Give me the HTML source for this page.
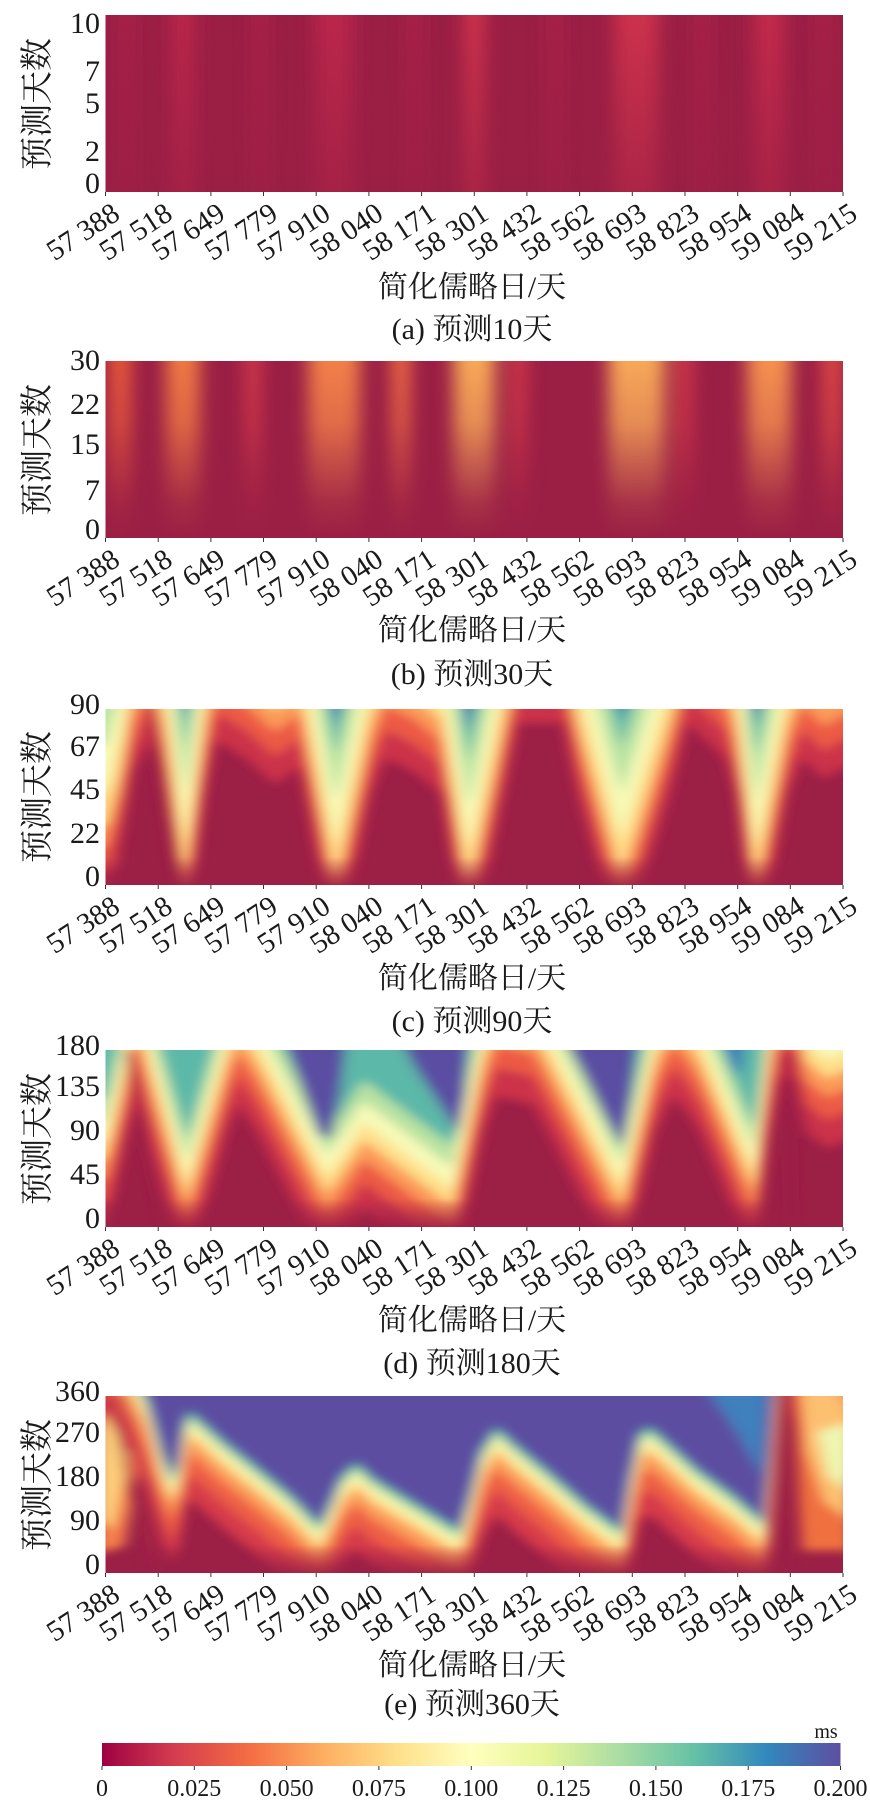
<!DOCTYPE html>
<html><head><meta charset="utf-8">
<style>
html,body{margin:0;padding:0;background:#fff;}
svg text{font-family:"Liberation Serif","Noto Serif CJK SC",serif;fill:#1a1a1a;}
</style></head>
<body>
<svg width="870" height="1798" viewBox="0 0 870 1798" xmlns="http://www.w3.org/2000/svg" xmlns:xlink="http://www.w3.org/1999/xlink">
<defs>
  <filter id="bl" x="-0.1" y="-0.3" width="1.2" height="1.6"><feGaussianBlur stdDeviation="9 2.5"/></filter>
  <filter id="bl2" x="-0.1" y="-0.3" width="1.2" height="1.6"><feGaussianBlur stdDeviation="12 3"/></filter>
  <linearGradient id="fadeG" x1="0" y1="0" x2="0" y2="1">
    <stop offset="0" stop-color="#fff"/><stop offset="0.35" stop-color="#fff" stop-opacity="0.8"/><stop offset="0.8" stop-color="#fff" stop-opacity="0.15"/><stop offset="1" stop-color="#fff" stop-opacity="0"/>
  </linearGradient>
  <mask id="fade" maskUnits="userSpaceOnUse" x="-100" y="-100" width="1200" height="300">
    <rect x="-100" y="0" width="1200" height="100" fill="url(#fadeG)"/>
  </mask>
  <linearGradient id="fadeA" x1="0" y1="0" x2="0" y2="1">
    <stop offset="0" stop-color="#fff"/><stop offset="1" stop-color="#fff" stop-opacity="0.35"/>
  </linearGradient>
  <mask id="fadeAm" maskUnits="userSpaceOnUse" x="-100" y="-100" width="1200" height="300">
    <rect x="-100" y="0" width="1200" height="100" fill="url(#fadeA)"/>
  </mask>
  <linearGradient id="bot" x1="0" y1="0" x2="0" y2="1">
    <stop offset="0" stop-color="#9c1f46" stop-opacity="0"/><stop offset="1" stop-color="#9c1f46" stop-opacity="0.85"/>
  </linearGradient>
  <linearGradient id="cbar" x1="0" y1="0" x2="1" y2="0">
    <stop offset="0" stop-color="#9e0142"/><stop offset="0.1" stop-color="#d53e4f"/><stop offset="0.2" stop-color="#f46d43"/><stop offset="0.3" stop-color="#fdae61"/><stop offset="0.4" stop-color="#fee08b"/><stop offset="0.5" stop-color="#ffffbf"/><stop offset="0.6" stop-color="#e6f598"/><stop offset="0.7" stop-color="#abdda4"/><stop offset="0.8" stop-color="#66c2a5"/><stop offset="0.9" stop-color="#3288bd"/><stop offset="1" stop-color="#5e4fa2"/>
  </linearGradient>
  <polygon id="Lc" points="-50,-300 -50,60 0,60 20,30 35,-10 60,-30 80,0 108,88 135,0 150,-30 190,-20 230,-5 262,-15 270,0 312,92 360,0 380,-20 420,-12 455,0 492,95 540,0 560,-40 620,-40 640,0 700,88 765,0 790,-40 840,-20 855,0 882,92 925,0 945,-20 975,-8 1000,-15 1050,-15 1050,-300"/>
  <polygon id="Ld" points="-50,-300 -50,55 0,55 15,30 30,0 45,-20 55,0 110,78 165,0 180,-15 205,0 300,75 350,45 470,82 512,0 530,-20 580,-15 600,0 700,80 745,0 770,-20 790,-10 806,0 880,72 900,0 915,-30 935,-30 950,0 980,10 1000,5 1050,5 1050,-300"/>
  <polygon id="Be" points="-50,-300 -50,-40 0,-40 40,-12 55,0 75,30 90,45 100,35 108,15 113,8 125,12 160,25 200,38 250,55 290,72 305,60 320,45 340,37 360,45 400,55 440,65 480,75 495,55 510,30 530,17 550,25 600,42 650,60 700,75 712,45 725,20 738,17 760,25 800,40 850,55 893,70 902,30 908,-5 920,-70 932,-40 950,-10 1000,-5 1050,-5 1050,-300"/>
  <g id="xlab" font-size="29" text-anchor="end">
    <text transform="translate(121.5,218) rotate(-33)">57 388</text>
    <text transform="translate(174.2,218) rotate(-33)">57 518</text>
    <text transform="translate(226.9,218) rotate(-33)">57 649</text>
    <text transform="translate(279.5,218) rotate(-33)">57 779</text>
    <text transform="translate(332.2,218) rotate(-33)">57 910</text>
    <text transform="translate(384.9,218) rotate(-33)">58 040</text>
    <text transform="translate(437.6,218) rotate(-33)">58 171</text>
    <text transform="translate(490.3,218) rotate(-33)">58 301</text>
    <text transform="translate(542.9,218) rotate(-33)">58 432</text>
    <text transform="translate(595.6,218) rotate(-33)">58 562</text>
    <text transform="translate(648.3,218) rotate(-33)">58 693</text>
    <text transform="translate(701.0,218) rotate(-33)">58 823</text>
    <text transform="translate(753.7,218) rotate(-33)">58 954</text>
    <text transform="translate(806.3,218) rotate(-33)">59 084</text>
    <text transform="translate(859,218) rotate(-33)">59 215</text>
  </g>
  <g id="xticks" stroke="#333" stroke-width="1">
    <line x1="105.5" y1="192" x2="105.5" y2="196"/><line x1="158.2" y1="192" x2="158.2" y2="196"/><line x1="210.9" y1="192" x2="210.9" y2="196"/><line x1="263.5" y1="192" x2="263.5" y2="196"/><line x1="316.2" y1="192" x2="316.2" y2="196"/><line x1="368.9" y1="192" x2="368.9" y2="196"/><line x1="421.6" y1="192" x2="421.6" y2="196"/><line x1="474.3" y1="192" x2="474.3" y2="196"/><line x1="526.9" y1="192" x2="526.9" y2="196"/><line x1="579.6" y1="192" x2="579.6" y2="196"/><line x1="632.3" y1="192" x2="632.3" y2="196"/><line x1="685" y1="192" x2="685" y2="196"/><line x1="737.7" y1="192" x2="737.7" y2="196"/><line x1="790.3" y1="192" x2="790.3" y2="196"/><line x1="843" y1="192" x2="843" y2="196"/>
  </g>
</defs>

<!-- ===== (a) ===== -->
<svg x="105.5" y="15" width="737.5" height="177" viewBox="0 0 1000 100" preserveAspectRatio="none">
  <rect x="0" y="0" width="1000" height="100" fill="#9b1f45"/>
  <g filter="url(#bl2)" mask="url(#fadeAm)">
    <rect x="90" y="-10" width="30" height="120" fill="#be284b"/>
    <rect x="285" y="-10" width="50" height="120" fill="#bb284b"/>
    <rect x="487" y="-10" width="26" height="120" fill="#d4354c"/>
    <rect x="690" y="-10" width="60" height="120" fill="#cc304c"/>
    <rect x="880" y="-10" width="40" height="120" fill="#c42c4b"/>
    <rect x="20" y="-10" width="18" height="120" fill="#ac2447"/>
    <rect x="200" y="-10" width="18" height="120" fill="#ac2447"/>
    <rect x="410" y="-10" width="18" height="120" fill="#ac2447"/>
    <rect x="600" y="-10" width="18" height="120" fill="#ac2447"/>
    <rect x="800" y="-10" width="18" height="120" fill="#ac2447"/>
    <rect x="965" y="-10" width="18" height="120" fill="#ac2447"/>
  </g>
</svg>

<!-- ===== (b) ===== -->
<svg x="105.5" y="361" width="737.5" height="177" viewBox="0 0 1000 100" preserveAspectRatio="none">
  <rect x="0" y="0" width="1000" height="100" fill="#9b1f45"/>
  <g filter="url(#bl2)" mask="url(#fade)">
    <rect x="5" y="-10" width="30" height="120" fill="#e85a3a"/>
    <rect x="82" y="-10" width="46" height="120" fill="#f07a45"/>
    <rect x="190" y="-10" width="20" height="120" fill="#d83a48"/>
    <rect x="275" y="-10" width="70" height="120" fill="#f28048"/>
    <rect x="388" y="-10" width="25" height="120" fill="#ee6a44"/>
    <rect x="472" y="-10" width="56" height="120" fill="#f8a858"/>
    <rect x="550" y="-10" width="20" height="120" fill="#d83a48"/>
    <rect x="682" y="-10" width="76" height="120" fill="#f8a858"/>
    <rect x="775" y="-10" width="20" height="120" fill="#d83a48"/>
    <rect x="870" y="-10" width="60" height="120" fill="#f59050"/>
    <rect x="972" y="-10" width="26" height="120" fill="#e04a45"/>
  </g>
</svg>

<!-- ===== (c) ===== -->
<svg x="105.5" y="709" width="737.5" height="176" viewBox="0 0 1000 100" preserveAspectRatio="none">
  <rect x="0" y="0" width="1000" height="100" fill="#9c1f46"/>
  <g filter="url(#bl)">
    <polygon points="-10,0 45,0 35,40 15,90 -10,90" fill="#ee6a46"/>
    <polygon points="-10,0 30,0 20,35 0,65 -10,60" fill="#fdc070"/>
    <use xlink:href="#Lc" transform="translate(0,48)" fill="#cc3349"/>
    <use xlink:href="#Lc" transform="translate(0,32)" fill="#ec5a44"/>
    <use xlink:href="#Lc" transform="translate(0,18)" fill="#fb9a58"/>
    <use xlink:href="#Lc" transform="translate(0,6)" fill="#fee08b"/>
    <use xlink:href="#Lc" transform="translate(0,-14)" fill="#f6fab8"/>
    <use xlink:href="#Lc" transform="translate(0,-40)" fill="#b8e2a2"/>
    <use xlink:href="#Lc" transform="translate(0,-66)" fill="#5cb8a8"/>
    <use xlink:href="#Lc" transform="translate(0,-82)" fill="#4a6db0"/>
    <line x1="60" y1="0" x2="100" y2="100" stroke="#9c1f46" stroke-width="8"/>
  </g>
  <rect x="0" y="84" width="1000" height="16" fill="url(#bot)"/>
</svg>

<!-- ===== (d) ===== -->
<svg x="105.5" y="1050" width="737.5" height="177" viewBox="0 0 1000 100" preserveAspectRatio="none">
  <rect x="0" y="0" width="1000" height="100" fill="#9c1f46"/>
  <g filter="url(#bl)">
    <polygon points="-10,0 30,0 20,50 5,90 -10,90" fill="#ee6a46"/>
    <use xlink:href="#Ld" transform="translate(0,46)" fill="#cc3349"/>
    <use xlink:href="#Ld" transform="translate(0,30)" fill="#ec5a44"/>
    <use xlink:href="#Ld" transform="translate(0,17)" fill="#fb9a58"/>
    <use xlink:href="#Ld" transform="translate(0,6)" fill="#fee08b"/>
    <use xlink:href="#Ld" transform="translate(0,-4)" fill="#f6fab8"/>
    <use xlink:href="#Ld" transform="translate(0,-16)" fill="#b8e2a2"/>
    <use xlink:href="#Ld" transform="translate(0,-28)" fill="#5cb8a8"/>
    <polygon points="240,-10 328,-10 318,25 305,50 290,48 265,20" fill="#5a4ea2"/>
    <polygon points="395,-10 492,-10 488,25 478,47 460,35 420,10" fill="#5a4ea2"/>
    <polygon points="618,-10 722,-10 712,30 700,55 680,40 650,15" fill="#5a4ea2"/>
    <polygon points="835,-10 868,-10 860,15 850,10" fill="#3a78b8"/>
    <line x1="30" y1="0" x2="80" y2="100" stroke="#9c1f46" stroke-width="7"/>
    <line x1="925" y1="0" x2="930" y2="100" stroke="#9c1f46" stroke-width="8"/>
  </g>
  <rect x="0" y="84" width="1000" height="16" fill="url(#bot)"/>
</svg>

<!-- ===== (e) ===== -->
<svg x="105.5" y="1396" width="737.5" height="177" viewBox="0 0 1000 100" preserveAspectRatio="none">
  <rect x="0" y="0" width="1000" height="100" fill="#9c1f46"/>
  <g filter="url(#bl)">
    <polygon points="-10,0 55,0 45,35 25,85 -10,90" fill="#f57f4b"/>
    <polygon points="-10,20 10,0 45,0 35,30 10,75 -10,70" fill="#fdcf7a"/>
    <use xlink:href="#Be" transform="translate(0,50)" fill="#d63b4a"/>
    <use xlink:href="#Be" transform="translate(0,36)" fill="#ee5e45"/>
    <use xlink:href="#Be" transform="translate(0,24)" fill="#fb9a58"/>
    <use xlink:href="#Be" transform="translate(0,15)" fill="#fee08b"/>
    <use xlink:href="#Be" transform="translate(0,10)" fill="#f6fab8"/>
    <use xlink:href="#Be" transform="translate(0,6)" fill="#b8e2a2"/>
    <use xlink:href="#Be" transform="translate(0,3)" fill="#5cb8a8"/>
    <use xlink:href="#Be" transform="translate(0,1)" fill="#3f8fb8"/>
    <use xlink:href="#Be" fill="#5b4ea1"/>
    <polygon points="805,-10 898,-10 890,45 855,20" fill="#3f80bd"/>
    <polygon points="932,-10 1010,-10 1010,88 945,88" fill="#f0703f"/>
    <polygon points="942,-10 990,-10 1010,15 1010,70 975,60 950,30" fill="#fdc070"/>
    <polygon points="965,20 1010,15 1010,55 980,45" fill="#eef6b0"/>
    <line x1="10" y1="0" x2="55" y2="100" stroke="#9c1f46" stroke-width="6"/>
    <line x1="25" y1="0" x2="70" y2="100" stroke="#b52a47" stroke-width="4"/>
    <line x1="918" y1="0" x2="922" y2="100" stroke="#9c1f46" stroke-width="8"/>
  </g>
  <rect x="0" y="84" width="1000" height="16" fill="url(#bot)"/>
</svg>

<!-- y tick labels -->
<g font-size="30" text-anchor="end">
  <text x="100" y="193">0</text><text x="100" y="161">2</text><text x="100" y="113">5</text><text x="100" y="81">7</text><text x="100" y="33">10</text>
  <text x="100" y="539">0</text><text x="100" y="500">7</text><text x="100" y="454">15</text><text x="100" y="414">22</text><text x="100" y="370">30</text>
  <text x="100" y="886">0</text><text x="100" y="843">22</text><text x="100" y="799">45</text><text x="100" y="756">67</text><text x="100" y="714">90</text>
  <text x="100" y="1228">0</text><text x="100" y="1184">45</text><text x="100" y="1140">90</text><text x="100" y="1096">135</text><text x="100" y="1055">180</text>
  <text x="100" y="1574">0</text><text x="100" y="1530">90</text><text x="100" y="1486">180</text><text x="100" y="1442">270</text><text x="100" y="1401">360</text>
</g>

<!-- y axis titles -->
<g font-size="33" text-anchor="middle">
  <text transform="translate(48,104) rotate(-90)">预测天数</text>
  <text transform="translate(48,450) rotate(-90)">预测天数</text>
  <text transform="translate(48,797) rotate(-90)">预测天数</text>
  <text transform="translate(48,1139) rotate(-90)">预测天数</text>
  <text transform="translate(48,1485) rotate(-90)">预测天数</text>
</g>

<!-- x ticks and labels -->
<use xlink:href="#xticks"/><use xlink:href="#xlab"/>
<use xlink:href="#xticks" transform="translate(0,346)"/><use xlink:href="#xlab" transform="translate(0,346)"/>
<use xlink:href="#xticks" transform="translate(0,693)"/><use xlink:href="#xlab" transform="translate(0,693)"/>
<use xlink:href="#xticks" transform="translate(0,1035)"/><use xlink:href="#xlab" transform="translate(0,1035)"/>
<use xlink:href="#xticks" transform="translate(0,1381)"/><use xlink:href="#xlab" transform="translate(0,1381)"/>

<!-- x titles & captions -->
<g font-size="30" text-anchor="middle">
  <text x="472" y="297">简化儒略日/天</text>
  <text x="472" y="339">(a) 预测10天</text>
  <text x="472" y="640">简化儒略日/天</text>
  <text x="472" y="684">(b) 预测30天</text>
  <text x="472" y="988">简化儒略日/天</text>
  <text x="472" y="1031">(c) 预测90天</text>
  <text x="472" y="1330">简化儒略日/天</text>
  <text x="472" y="1373">(d) 预测180天</text>
  <text x="472" y="1675">简化儒略日/天</text>
  <text x="472" y="1714">(e) 预测360天</text>
</g>

<!-- colorbar -->
<rect x="102" y="1743" width="738.5" height="23" fill="url(#cbar)"/>
<text x="826" y="1738" font-size="20" text-anchor="middle">ms</text>
<g stroke="#333" stroke-width="1">
  <line x1="102" y1="1766" x2="102" y2="1770"/><line x1="194.3" y1="1766" x2="194.3" y2="1770"/><line x1="286.6" y1="1766" x2="286.6" y2="1770"/><line x1="378.9" y1="1766" x2="378.9" y2="1770"/><line x1="471.3" y1="1766" x2="471.3" y2="1770"/><line x1="563.6" y1="1766" x2="563.6" y2="1770"/><line x1="655.9" y1="1766" x2="655.9" y2="1770"/><line x1="748.2" y1="1766" x2="748.2" y2="1770"/><line x1="840.5" y1="1766" x2="840.5" y2="1770"/>
</g>
<g font-size="24" text-anchor="middle">
  <text x="102" y="1796">0</text><text x="194.3" y="1796">0.025</text><text x="286.6" y="1796">0.050</text><text x="378.9" y="1796">0.075</text><text x="471.3" y="1796">0.100</text><text x="563.6" y="1796">0.125</text><text x="655.9" y="1796">0.150</text><text x="748.2" y="1796">0.175</text><text x="840.5" y="1796">0.200</text>
</g>
</svg>
</body></html>
